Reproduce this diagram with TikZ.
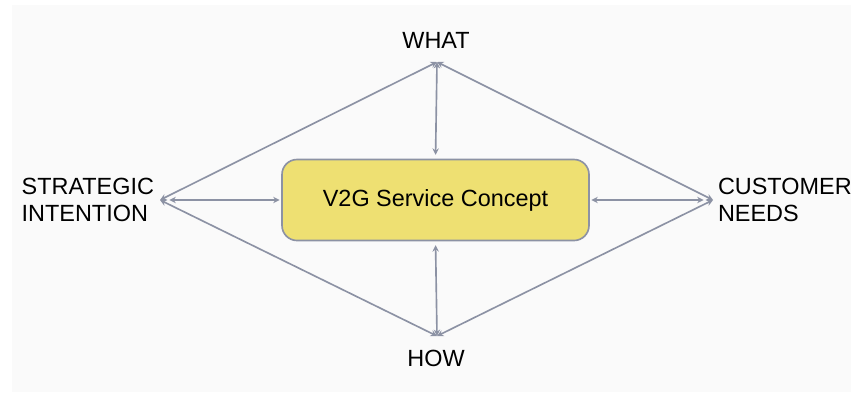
\documentclass[tikz,border=0pt]{standalone}
\usepackage{fontspec}
\setmainfont{Liberation Sans}
\usetikzlibrary{arrows.meta}
\definecolor{linkgray}{HTML}{8C92A4}
\definecolor{conceptyellow}{HTML}{EEE072}
\definecolor{bggray}{HTML}{FAFAFA}

\begin{document}
\begin{tikzpicture}[x=0.03cm, y=-0.03cm,
  every node/.style={inner sep=0pt, outer sep=0pt},
  label/.style={font=\fontsize{20}{23}\selectfont, align=left},
  link/.style={draw=linkgray, line width=1.4pt, {Stealth[length=5.5pt,width=5.5pt]}-{Stealth[length=5.5pt,width=5.5pt]}}]
\useasboundingbox (0,0) rectangle (851,397);
\fill[bggray] (12,5) rectangle (851,392);

\node[draw=linkgray, line width=1.4pt, fill=conceptyellow, rounded corners=0.45cm,
  minimum width=307*0.03cm, minimum height=81*0.03cm,
  font=\fontsize{20}{24}\selectfont] (concept) at (435.5,200) {V2G Service Concept};

\coordinate (whatP) at (437,62);
\coordinate (howP) at (437,336);
\coordinate (stratP) at (160,200);
\coordinate (custP) at (713,200);

\node[label, anchor=base] (what) at (436,49) {WHAT};
\node[label, anchor=base] (how) at (436,366) {HOW};
\node[label, anchor=east] (strat) at (154,200) {STRATEGIC\\INTENTION};
\node[label, anchor=west] (cust) at (718,200) {CUSTOMER\\NEEDS};

\draw[link] (whatP) -- (stratP);
\draw[link] (whatP) -- (custP);
\draw[link] (howP) -- (stratP);
\draw[link] (howP) -- (custP);

\draw[link, shorten >=4pt] (whatP) -- (concept.north);
\draw[link, shorten <=4pt] (concept.south) -- (howP);
\draw[link, shorten <=8pt, shorten >=2pt] (stratP) -- (concept.west);
\draw[link, shorten <=2pt, shorten >=8pt] (concept.east) -- (custP);
\end{tikzpicture}
\end{document}
